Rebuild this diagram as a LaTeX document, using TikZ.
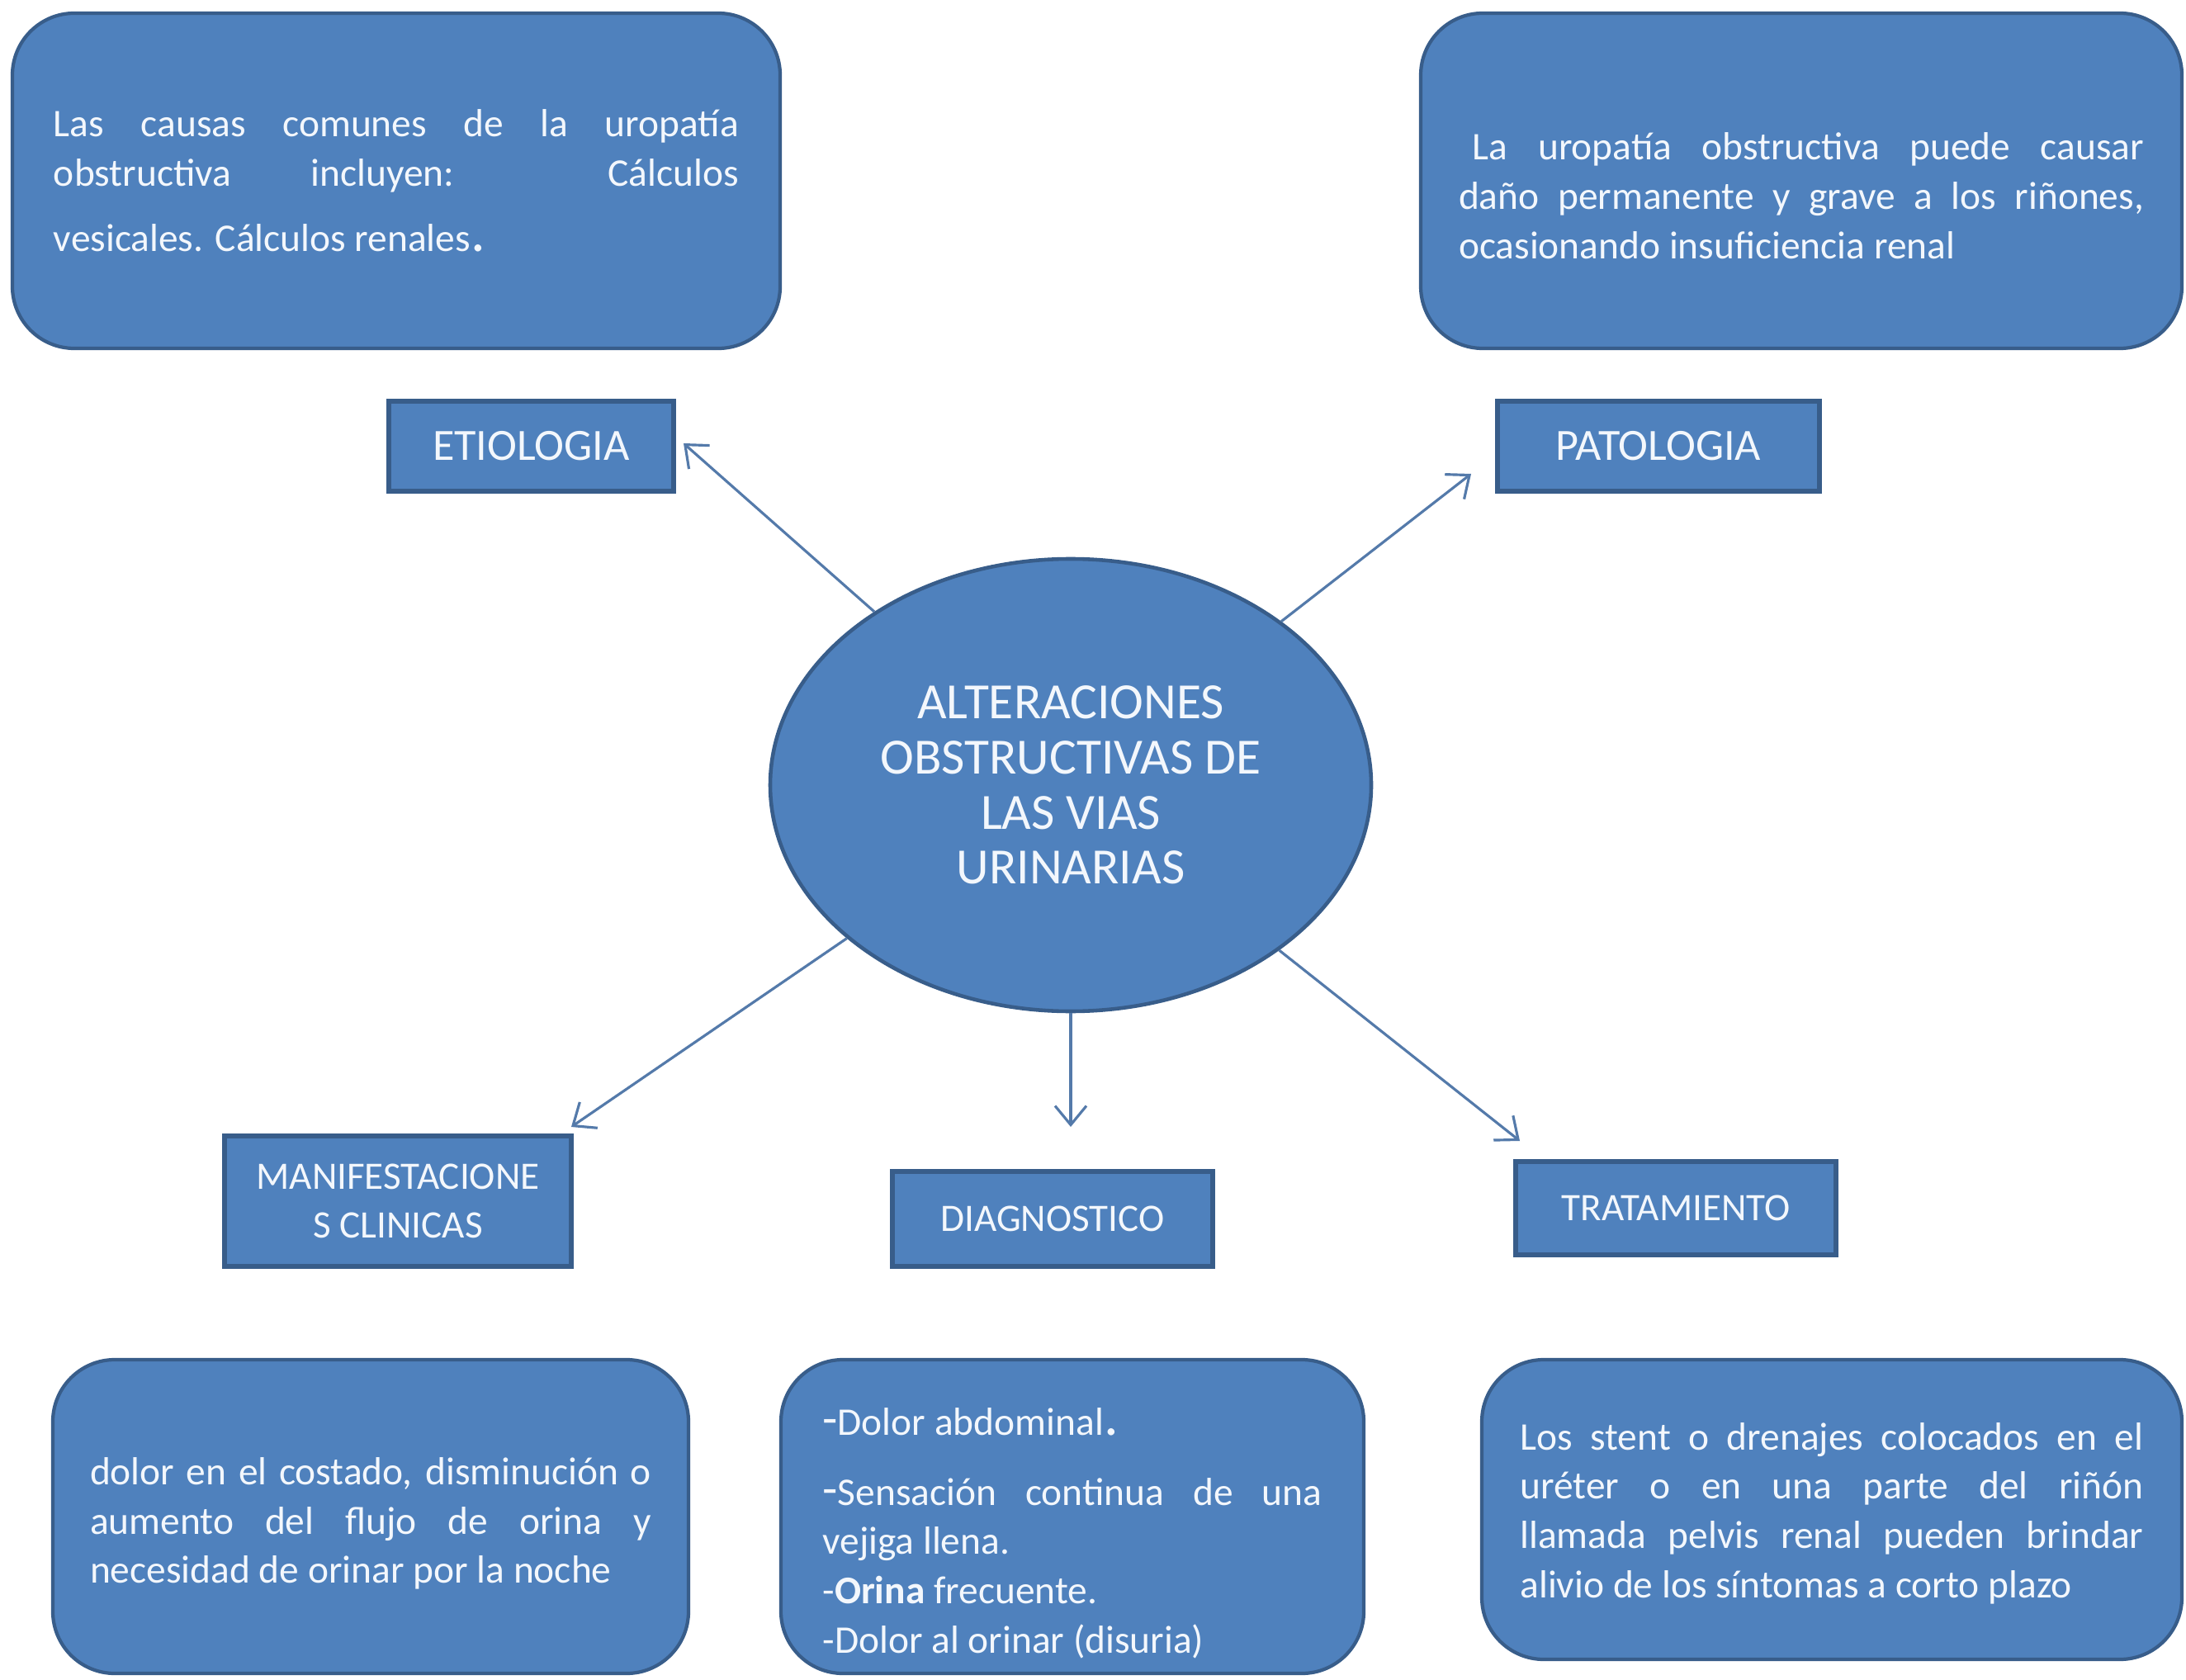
\documentclass[tikz,border=0pt]{standalone}
\usepackage{fontspec}
\setmainfont{Carlito}
\usetikzlibrary{arrows.meta,shapes.geometric}

\definecolor{boxfill}{RGB}{79,129,189}
\definecolor{boxline}{RGB}{56,93,138}
\definecolor{linkline}{RGB}{84,122,170}
\definecolor{boxtext}{RGB}{243,247,252}

\begin{document}
\begin{tikzpicture}[
  >={Straight Barb[length=2.3mm,width=3.8mm]},
  every node/.style={text=boxtext, inner sep=0pt},
  infobox/.style={draw=boxline, line width=1.2pt, fill=boxfill,
    rounded corners=0.75cm, align=justify,
    font=\fontsize{13.5}{17}\selectfont\sloppy},
  topic/.style={draw=boxline, line width=1.5pt, fill=boxfill,
    align=center, font=\fontsize{13.4}{16.8}\selectfont},
  bigtopic/.style={topic, font=\fontsize{15.4}{18}\selectfont},
  core/.style={draw=boxline, line width=1.3pt, fill=boxfill, ellipse,
    align=center, font=\fontsize{17.5}{19}\selectfont},
  link/.style={->, linkline, line width=0.9pt},
]
\path[use as bounding box, fill=white] (0,0) rectangle (26.48,20.34);

\node[infobox, minimum width=9.3cm, minimum height=4.06cm, text width=8.3cm]
  (etioText) at (4.80, 18.15)
  {Las causas comunes de la uropatía\linebreak
   obstructiva incluyen: Cálculos\vspace{5.5pt}\linebreak
   vesicales. Cálculos renales{\fontsize{20}{20}\selectfont.}};
\node[infobox, minimum width=9.22cm, minimum height=4.06cm, text width=8.3cm]
  (patoText) at (21.82, 18.15)
  {\par\vspace*{2.8pt}\hspace*{4.8pt}La uropatía obstructiva puede causar\linebreak
   daño permanente y grave a los riñones,\linebreak
   ocasionando insuficiencia renal};

\node[bigtopic, minimum width=3.45cm, minimum height=1.09cm]
  (etio) at (6.435, 14.935) {ETIOLOGIA};
\node[bigtopic, minimum width=3.9cm, minimum height=1.09cm]
  (pato) at (20.09, 14.935) {PATOLOGIA};

\node[core, minimum width=7.28cm, minimum height=5.48cm] (main) at (12.97, 10.83)
  {ALTERACIONES\\OBSTRUCTIVAS DE\\LAS VIAS\\URINARIAS};

\node[topic, minimum width=4.2cm, minimum height=1.58cm]
  (manif) at (4.82, 5.79) {MANIFESTACIONE\\S CLINICAS};
\node[topic, minimum width=3.88cm, minimum height=1.15cm]
  (diag) at (12.75, 5.575) {DIAGNOSTICO};
\node[topic, minimum width=3.88cm, minimum height=1.13cm]
  (trat) at (20.30, 5.705) {TRATAMIENTO};

\node[infobox, minimum width=7.7cm, minimum height=3.8cm, text width=6.8cm]
  (manifText) at (4.49, 1.97)
  {\par\vspace*{-2.8pt}dolor en el costado, disminución o\linebreak
   aumento del flujo de orina y\linebreak
   necesidad de orinar por la noche};
\node[infobox, minimum width=7.06cm, minimum height=3.8cm, text width=6.05cm]
  (diagText) at (12.99, 1.97)
  {\par\vspace*{4pt}{\fontsize{17}{17}\selectfont-}Dolor abdominal{\fontsize{20}{20}\selectfont.}\\[7pt]
   {\fontsize{17}{17}\selectfont-}Sensación continua de una\linebreak
   vejiga llena.\\
   -\textbf{Orina} frecuente.\\
   -Dolor al orinar (disuria)};
\node[infobox, minimum width=8.48cm, minimum height=3.63cm, text width=7.55cm]
  (tratText) at (22.19, 2.055)
  {\par\vspace*{-5pt}Los stent o drenajes colocados en el\linebreak
   uréter o en una parte del riñón\linebreak
   llamada pelvis renal pueden brindar\linebreak
   alivio de los síntomas a corto plazo};

\coordinate (etioEnd) at (8.28, 14.97);
\coordinate (patoEnd) at (17.82, 14.60);
\coordinate (manifEnd) at (6.92, 6.69);
\coordinate (diagEnd) at (12.97, 6.69);
\coordinate (tratEnd) at (18.41, 6.52);

\draw[link] (main) -- (etioEnd);
\draw[link] (main) -- (patoEnd);
\draw[link] (main) -- (manifEnd);
\draw[link] (main) -- (diagEnd);
\draw[link] (main) -- (tratEnd);
\end{tikzpicture}
\end{document}
